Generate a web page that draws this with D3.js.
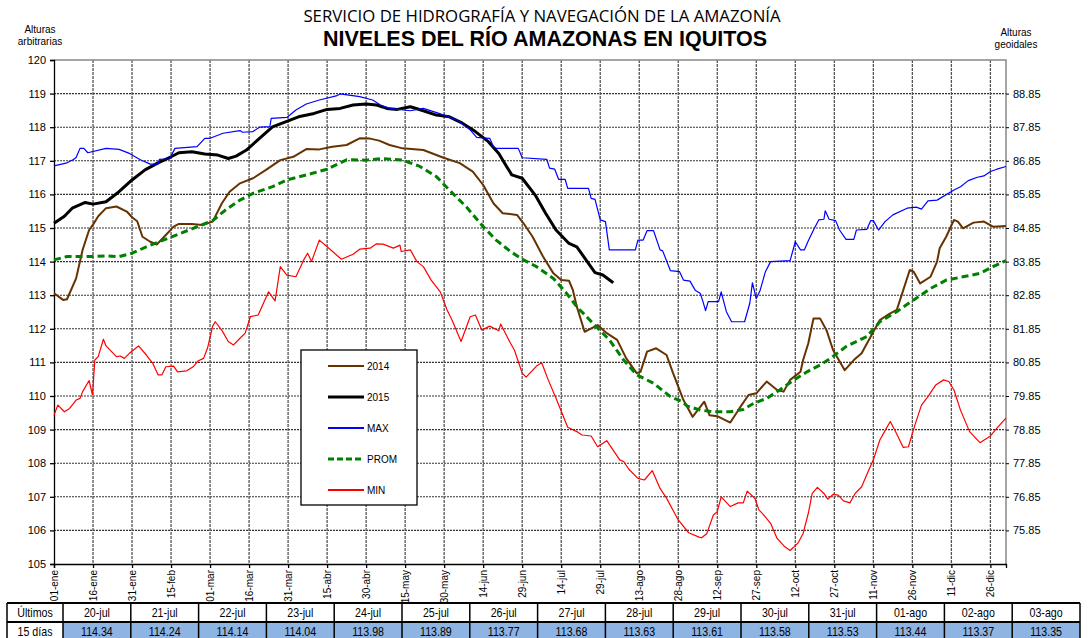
<!DOCTYPE html>
<html>
<head>
<meta charset="utf-8">
<title>Niveles del río Amazonas en Iquitos</title>
<script src="https://cdn.jsdelivr.net/npm/d3@7"></script>
<style>
    body { margin: 0; background: #fff; }
    svg { display: block; font-family: "Liberation Sans", Arial, sans-serif; }
    .grid line.h { stroke: #333; stroke-width: 1.1; stroke-dasharray: 2,1; }
    .grid line.v { stroke: #555; stroke-width: 1.3; stroke-dasharray: 3,1; }
    .tbl text { font-family: "Liberation Sans Narrow", "Arial Narrow", "Liberation Sans", sans-serif; font-size: 13px; }
</style>
</head>
<body>
<svg id="chart" width="1088" height="638"></svg>
<script>
    // day of year (0 = 01-ene), level in arbitrary heights
    var serie2014 = [[0,113.06],[3.5,112.86],[5,112.88],[8.5,113.5],[11,114.35],[13.5,114.94],[15,115.1],[17,115.35],[20,115.59],[24,115.64],[28,115.49],[30,115.32],[32,115.2],[34,114.74],[37,114.59],[39.5,114.51],[43,114.79],[46,115.04],[48,115.12],[53,115.12],[57,115.09],[61,115.19],[64.5,115.73],[67.5,116.08],[71.5,116.33],[76.5,116.48],[81.5,116.73],[87,117.02],[92,117.12],[97,117.35],[102,117.34],[107,117.42],[112.5,117.47],[117.5,117.67],[121.5,117.66],[125,117.6],[129,117.47],[134,117.37],[142,117.32],[149.5,117.1],[156,116.93],[161,116.68],[165,116.28],[169,115.73],[172.5,115.44],[178,115.39],[180.5,115.14],[184,114.74],[188,114.15],[192,113.65],[195,113.45],[198,113.43],[199.5,113.15],[201,112.66],[204,111.91],[206,111.99],[209,112.11],[212.5,111.87],[216.5,111.67],[220,111.12],[224,110.68],[225.5,110.72],[228,111.32],[231.5,111.42],[235.5,111.22],[238,110.68],[242,109.88],[245.5,109.38],[250,109.83],[252,109.43],[255,109.4],[260,109.21],[263.5,109.63],[267,110.03],[270,110.08],[274,110.43],[278,110.18],[280.5,110.13],[283,110.48],[287,110.72],[288,111.07],[290,111.57],[292,112.31],[294.5,112.31],[297,111.96],[299.5,111.37],[304,110.77],[307.5,111.07],[310.5,111.27],[314,111.77],[317.5,112.26],[321,112.44],[324,112.56],[326.5,113.15],[329,113.75],[330.5,113.7],[333,113.35],[337,113.55],[339.5,114.0],[340.5,114.4],[343,114.74],[346,115.24],[347.5,115.19],[349.5,114.99],[353.5,115.16],[357.5,115.19],[361,115.04],[366,115.06]];

    var serie2015 = [[0,115.14],[4,115.35],[7,115.59],[12,115.76],[15,115.71],[20,115.78],[25,116.08],[30,116.43],[35,116.73],[40,116.94],[45,117.12],[48,117.24],[53,117.27],[58,117.2],[63,117.17],[67,117.07],[70,117.14],[74,117.32],[79,117.67],[84,118.01],[89,118.16],[94,118.31],[100,118.41],[105,118.53],[110,118.56],[115,118.66],[120,118.69],[124,118.66],[128,118.56],[132,118.53],[137,118.61],[142,118.49],[147,118.36],[152,118.31],[157,118.12],[162,117.87],[167,117.57],[171,117.22],[174,116.83],[176,116.58],[180,116.48],[185,115.98],[189,115.44],[193,114.94],[198,114.54],[201,114.44],[205,114.0],[208,113.67],[211,113.6],[215,113.37]];

    var serieMax = [[0,116.85],[5,116.94],[7.5,117.04],[8.5,117.1],[10,117.37],[11.5,117.37],[13,117.24],[20,117.37],[25,117.34],[29,117.22],[33,117.04],[37,116.9],[40,116.9],[40.5,117.04],[44.5,117.06],[46.5,117.37],[55,117.42],[58,117.67],[60,117.67],[65,117.82],[71.5,117.9],[72.5,117.85],[76.5,117.87],[79,118.0],[83,118.02],[83.5,118.26],[89.5,118.29],[93,118.51],[97,118.69],[102,118.81],[108.5,118.93],[110,118.99],[117.5,118.91],[122.5,118.81],[125.5,118.66],[129,118.56],[137,118.49],[142,118.56],[148,118.41],[155,118.21],[160,117.92],[162.5,117.7],[167.5,117.67],[169,117.42],[170,117.37],[178.5,117.37],[180,117.09],[189.5,117.04],[190.5,116.78],[192.5,116.75],[194,116.45],[196.5,116.45],[197.5,116.18],[205.5,116.18],[206.5,115.88],[208,115.85],[210,115.24],[212,115.19],[213.5,114.35],[223.5,114.35],[224.5,114.64],[226.5,114.64],[228,114.92],[230.5,114.92],[233,114.35],[234,114.32],[237,113.73],[240.5,113.7],[242,113.45],[244.5,113.42],[246.5,113.15],[248.5,113.05],[249.5,112.81],[250.5,112.54],[251.5,112.81],[255.5,112.81],[256.5,113.1],[258.5,112.51],[260.5,112.21],[265.5,112.21],[267.5,112.76],[268.5,113.37],[270,112.9],[271.5,113.15],[273.5,113.7],[275.5,114.0],[283,114.03],[285,114.59],[287,114.35],[288.5,114.35],[290,114.62],[292,114.94],[294,115.24],[296,115.26],[296.5,115.51],[298,115.26],[300.5,115.22],[302,114.94],[304.5,114.66],[307.5,114.66],[308.5,114.94],[312.5,114.96],[314,115.22],[315,115.22],[317,114.94],[319.5,115.19],[322.5,115.39],[328,115.59],[331.5,115.62],[333.5,115.56],[336,115.81],[339.5,115.83],[346,116.13],[348.5,116.23],[351.5,116.41],[355,116.51],[357.5,116.55],[360,116.68],[362.5,116.75],[366,116.83]];

    var serieProm = [[0,114.05],[5,114.15],[14,114.15],[20,114.17],[25,114.15],[30,114.25],[35.5,114.44],[40.5,114.59],[46,114.76],[53.5,114.99],[61,115.22],[66,115.54],[71.5,115.83],[76.5,116.03],[84,116.23],[89.5,116.43],[97,116.58],[105,116.75],[112.5,117.03],[120,117.02],[126,117.07],[134,117.02],[140.5,116.84],[147,116.53],[152,116.13],[158.5,115.63],[165,115.04],[170,114.64],[175.5,114.3],[180.5,114.05],[185.5,113.85],[192,113.5],[197,113.06],[201.5,112.61],[203.5,112.46],[208.5,112.06],[213.5,111.67],[219,111.07],[224,110.63],[230.5,110.38],[237,109.98],[241,109.85],[243.5,109.7],[248.5,109.58],[253.5,109.53],[260,109.53],[265,109.6],[269,109.78],[274,109.93],[279,110.18],[284,110.45],[289.5,110.72],[294.5,110.92],[298.5,111.12],[304.5,111.47],[312.5,111.77],[317.5,112.21],[324,112.51],[330.5,112.86],[337,113.2],[343,113.45],[351,113.57],[356,113.65],[361,113.85],[366,114.03]];

    var serieMin = [[0,109.43],[1.5,109.73],[4,109.53],[6,109.63],[8.5,109.88],[10,109.93],[11,110.13],[13.5,110.46],[14.8,110.03],[15.7,111.07],[17,111.17],[19,111.69],[20,111.49],[24,111.17],[25.5,111.19],[27,111.12],[29,111.27],[32.5,111.49],[35.5,111.22],[38,110.97],[40,110.63],[41.5,110.63],[43,110.87],[46,110.89],[47.5,110.72],[51,110.75],[53.5,110.87],[55.5,111.05],[57.5,111.12],[59,111.42],[61,112.08],[62,112.21],[64.5,111.96],[67,111.62],[69,111.52],[71.5,111.72],[73.5,111.87],[75.5,112.36],[78.5,112.41],[82.5,113.1],[85,112.83],[87,113.85],[89.5,113.6],[93,113.55],[96,114.05],[97.5,114.25],[99,114.0],[102,114.64],[105,114.44],[110.5,114.07],[115,114.22],[117.5,114.37],[121.5,114.4],[124,114.53],[126.5,114.52],[130.5,114.4],[133,114.49],[133.5,114.3],[137,114.35],[139.5,114.0],[142,113.85],[145,113.45],[148.5,113.1],[151,112.58],[153,112.26],[156.5,111.62],[160,112.36],[162,112.41],[164.5,111.96],[167.5,112.08],[171,111.94],[171.7,112.14],[175.5,111.57],[177,111.37],[180,110.68],[181.5,110.56],[185.5,110.89],[187.5,110.99],[190,110.48],[193,109.93],[197.5,109.07],[201,108.94],[203,108.84],[206.5,108.81],[209,108.49],[212.5,108.67],[217.5,108.1],[219,108.05],[221,107.82],[224.5,107.55],[227,107.5],[230,107.78],[233,107.25],[235.5,106.96],[240,106.31],[244,105.93],[248,105.8],[249,105.78],[251,105.91],[253.5,106.46],[255,106.56],[256.5,107.0],[260,106.71],[263,106.82],[265,106.82],[266.5,107.17],[269.5,106.95],[271,106.61],[272.5,106.49],[275.5,106.21],[278,105.76],[281,105.51],[283,105.4],[286,105.62],[288,105.91],[290,106.51],[291.5,107.1],[293.5,107.28],[296,107.1],[297.5,106.93],[299.5,107.07],[301.5,107.05],[303.5,106.88],[306,106.82],[308,107.1],[310.5,107.3],[313,107.75],[315,108.1],[317.5,108.69],[319.5,108.97],[321.5,109.24],[324,108.87],[326.5,108.47],[328.5,108.49],[331,109.14],[333.5,109.73],[336,109.98],[339,110.33],[342,110.48],[344,110.43],[346,110.18],[348.5,109.58],[352,108.94],[356,108.61],[360,108.81],[363,109.09],[366,109.34]];

    var xTickLabels = ["01-ene","16-ene","31-ene","15-feb","01-mar","16-mar","31-mar","15-abr","30-abr","15-may","30-may","14-jun","29-jun","14-jul","29-jul","13-ago","28-ago","12-sep","27-sep","12-oct","27-oct","11-nov","26-nov","11-dic","26-dic"];
    var xTickStep = 15;            // days between labels
    var geoidOffset = 30.15;       // arbitrary -> geoidal

    var tableDates = ["20-jul","21-jul","22-jul","23-jul","24-jul","25-jul","26-jul","27-jul","28-jul","29-jul","30-jul","31-jul","01-ago","02-ago","03-ago"];
    var tableValues = [114.34,114.24,114.14,114.04,113.98,113.89,113.77,113.68,113.63,113.61,113.58,113.53,113.44,113.37,113.35];

    var series = [
        {name: "2014", data: serie2014, color: "#663300", width: 2, dash: null},
        {name: "2015", data: serie2015, color: "#000000", width: 3, dash: null},
        {name: "MAX", data: serieMax, color: "#0000ff", width: 1.2, dash: null},
        {name: "PROM", data: serieProm, color: "#008000", width: 3, dash: "7,4"},
        {name: "MIN", data: serieMin, color: "#ff0000", width: 1.2, dash: null}
    ];

    var svg = d3.select("#chart");
    var pLeft = 54, pRight = 1006, pTop = 60, pBottom = 564;

    var x = d3.scaleLinear().domain([0, 366]).range([pLeft, pRight]);
    var y = d3.scaleLinear().domain([105, 120]).range([pBottom, pTop]);
    var tickDays = xTickLabels.map(function (d, i) { return i * xTickStep; });

    // titles
    svg.append("text").attr("x", 542).attr("y", 22).attr("text-anchor", "middle")
        .style("font-family", "'Open Sans', sans-serif").style("font-size", "16.8px")
        .text("SERVICIO DE HIDROGRAFÍA Y NAVEGACIÓN DE LA AMAZONÍA");
    svg.append("text").attr("x", 545).attr("y", 46).attr("text-anchor", "middle")
        .style("font-size", "21.5px").style("font-weight", "bold")
        .text("NIVELES DEL RÍO AMAZONAS EN IQUITOS");

    svg.append("text").attr("x", 40).attr("y", 33).attr("text-anchor", "middle")
        .style("font-size", "10px").text("Alturas");
    svg.append("text").attr("x", 40).attr("y", 45).attr("text-anchor", "middle")
        .style("font-size", "10px").text("arbitrarias");
    svg.append("text").attr("x", 1016).attr("y", 36).attr("text-anchor", "middle")
        .style("font-size", "10px").text("Alturas");
    svg.append("text").attr("x", 1016).attr("y", 48).attr("text-anchor", "middle")
        .style("font-size", "10px").text("geoidales");

    // grid
    var grid = svg.append("g").attr("class", "grid");
    grid.selectAll(".h").data(d3.range(106, 120)).enter().append("line").attr("class", "h")
        .attr("x1", pLeft).attr("x2", pRight)
        .attr("y1", function (d) { return y(d); }).attr("y2", function (d) { return y(d); });
    grid.selectAll(".v").data(tickDays.slice(1)).enter().append("line").attr("class", "v")
        .attr("y1", pTop).attr("y2", pBottom)
        .attr("x1", function (d) { return x(d); }).attr("x2", function (d) { return x(d); });

    // frame top/right
    svg.append("path").attr("d", "M" + pLeft + "," + pTop + "H" + pRight + "V" + pBottom)
        .attr("fill", "none").attr("stroke", "#888").attr("stroke-width", 1.5);

    // axes
    var yAxis = svg.append("g").attr("transform", "translate(" + pLeft + ",0)")
        .call(d3.axisLeft(y).tickValues(d3.range(105, 121)).tickSize(4).tickPadding(4));
    yAxis.selectAll("text").style("font-size", "11px").attr("fill", "#000");

    var yAxisR = svg.append("g").attr("transform", "translate(" + pRight + ",0)")
        .call(d3.axisRight(y).tickValues(d3.range(106, 120)).tickSize(3).tickPadding(4)
            .tickFormat(function (d) { return (d - geoidOffset).toFixed(2); }));
    yAxisR.select(".domain").remove();
    yAxisR.selectAll("text").style("font-size", "11px").attr("fill", "#000");

    var xAxis = svg.append("g").attr("transform", "translate(0," + pBottom + ")")
        .call(d3.axisBottom(x).tickValues(tickDays).tickSize(4)
            .tickFormat(function (d, i) { return xTickLabels[i]; }));
    xAxis.selectAll("text")
        .style("font-size", "10px").attr("fill", "#000")
        .attr("transform", "rotate(-90)")
        .attr("text-anchor", "end")
        .attr("x", -6).attr("y", 0).attr("dy", "0.35em");
    xAxis.selectAll("path, line").attr("stroke-width", 1.3);
    yAxis.selectAll("path, line").attr("stroke-width", 1.3);

    // series
    var line = d3.line().x(function (d) { return x(d[0]); }).y(function (d) { return y(d[1]); });
    svg.append("g").selectAll("path").data(series).enter().append("path")
        .attr("d", function (d) { return line(d.data); })
        .attr("fill", "none")
        .attr("stroke", function (d) { return d.color; })
        .attr("stroke-width", function (d) { return d.width; })
        .attr("stroke-dasharray", function (d) { return d.dash; })
        .attr("stroke-linejoin", "round");

    // legend
    var legend = svg.append("g");
    legend.append("rect").attr("x", 301).attr("y", 350).attr("width", 116).attr("height", 155)
        .attr("fill", "#fff").attr("stroke", "#000").attr("stroke-width", 1.3);
    var item = legend.selectAll(".item").data(series).enter().append("g")
        .attr("transform", function (d, i) { return "translate(0," + (366 + i * 31) + ")"; });
    item.append("line").attr("x1", 328).attr("x2", 364)
        .attr("stroke", function (d) { return d.color; })
        .attr("stroke-width", function (d) { return Math.max(d.width, 2); })
        .attr("stroke-dasharray", function (d) { return d.dash ? "6,3" : null; });
    item.append("text").attr("x", 367).attr("dy", "0.35em")
        .style("font-size", "10px").text(function (d) { return d.name; });

    // table of last 15 days
    var tbl = svg.append("g").attr("class", "tbl");
    var firstX = 7, firstW = 56, colW = 67.8, rowTop = 603, rowH = 19;
    var cols = [{label: "Últimos", value: "15 días", x: firstX, w: firstW, fill: false}]
        .concat(tableDates.map(function (d, i) {
            return {label: d, value: tableValues[i].toFixed(2), x: firstX + firstW + i * colW, w: colW, fill: true};
        }));
    var cell = tbl.selectAll(".col").data(cols).enter().append("g");
    cell.append("rect").attr("x", function (d) { return d.x; }).attr("y", rowTop + rowH)
        .attr("width", function (d) { return d.w; }).attr("height", rowH)
        .attr("fill", function (d) { return d.fill ? "#8db4e2" : "#fff"; });
    cell.append("line").attr("x1", function (d) { return d.x; }).attr("x2", function (d) { return d.x; })
        .attr("y1", rowTop).attr("y2", rowTop + 2 * rowH)
        .attr("stroke", "#000").attr("stroke-width", 1.5);
    cell.append("text")
        .attr("transform", function (d) { return "translate(" + (d.x + d.w / 2) + "," + (rowTop + 14) + ") scale(0.82,1)"; })
        .attr("text-anchor", "middle").text(function (d) { return d.label; });
    cell.append("text")
        .attr("transform", function (d) { return "translate(" + (d.x + d.w / 2) + "," + (rowTop + rowH + 14) + ") scale(0.82,1)"; })
        .attr("text-anchor", "middle").text(function (d) { return d.value; });
    var tblRight = firstX + firstW + tableDates.length * colW;
    tbl.append("line").attr("x1", tblRight).attr("x2", tblRight).attr("y1", rowTop).attr("y2", rowTop + 2 * rowH)
        .attr("stroke", "#000").attr("stroke-width", 1.5);
    [rowTop, rowTop + rowH].forEach(function (ry) {
        tbl.append("line").attr("x1", firstX).attr("x2", tblRight).attr("y1", ry).attr("y2", ry)
            .attr("stroke", "#000").attr("stroke-width", 2.2);
    });
</script>
</body>
</html>
